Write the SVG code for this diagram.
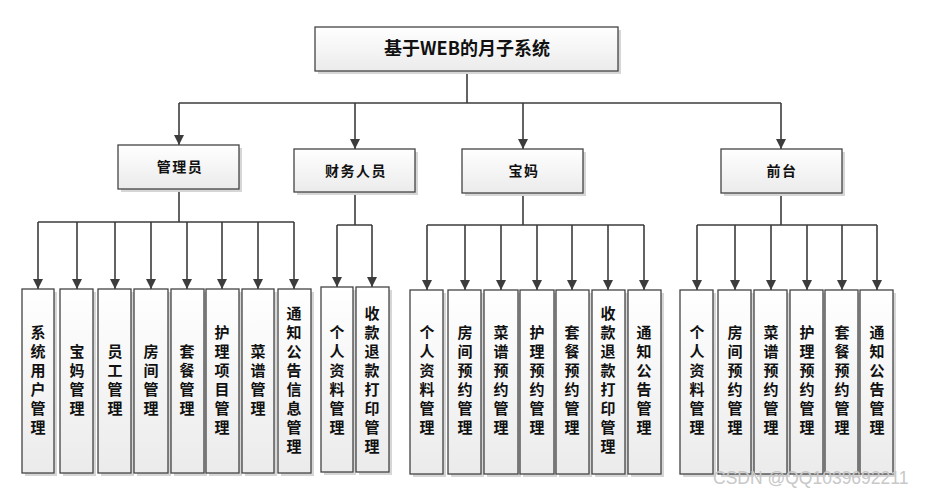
<svg xmlns="http://www.w3.org/2000/svg" width="926" height="495" viewBox="0 0 926 495">
<defs>
<linearGradient id="g" x1="0" y1="0" x2="0" y2="1">
<stop offset="0" stop-color="#ffffff"/>
<stop offset="1" stop-color="#ebebeb"/>
</linearGradient>
<marker id="ah" markerUnits="userSpaceOnUse" markerWidth="11" markerHeight="11" refX="10" refY="5" orient="auto">
<path d="M0,0 L10,5 L0,10 z" fill="#3c3c3c"/>
</marker>
</defs>
<style>
.sh{fill:#d6d6d6}
.bx{fill:url(#g);stroke:#444;stroke-width:1.3}
.t1{font-family:"Noto Sans CJK SC","Liberation Serif",serif;font-weight:bold;font-size:18px;fill:#111;text-anchor:middle}
.t2{font-family:"Noto Sans CJK SC",serif;font-weight:bold;font-size:14px;fill:#111;text-anchor:middle;letter-spacing:1.5px}
.lf{font-family:"Noto Sans CJK SC",serif;font-weight:bold;font-size:15px;fill:#111;text-anchor:middle}
.cn{fill:none;stroke:#3c3c3c;stroke-width:1.6}
.ar{fill:none;stroke:#3c3c3c;stroke-width:1.6;marker-end:url(#ah)}
.wm{font-family:"Liberation Sans",sans-serif;font-size:17.5px;fill:#c8c8c8}
</style>
<rect width="926" height="495" fill="#fff"/>

<g id="connectors">
<path class="cn" d="M467,71 V103 M179,103 H781"/>
<path class="ar" d="M179,103 V145"/>
<path class="ar" d="M355,103 V149"/>
<path class="ar" d="M523,103 V149"/>
<path class="ar" d="M781,103 V149"/>
<path class="cn" d="M179,189 V222 M38,222 H294"/>
<path class="ar" d="M38,222 V289"/>
<path class="ar" d="M77,222 V289"/>
<path class="ar" d="M115,222 V289"/>
<path class="ar" d="M151,222 V289"/>
<path class="ar" d="M187,222 V289"/>
<path class="ar" d="M222,222 V289"/>
<path class="ar" d="M258,222 V289"/>
<path class="ar" d="M294,222 V289"/>
<path class="cn" d="M355,192 V225 M337,225 H372"/>
<path class="ar" d="M337,225 V287"/>
<path class="ar" d="M372,225 V287"/>
<path class="cn" d="M523,193 V225 M427,225 H644"/>
<path class="ar" d="M427,225 V290"/>
<path class="ar" d="M465,225 V290"/>
<path class="ar" d="M501,225 V290"/>
<path class="ar" d="M537,225 V290"/>
<path class="ar" d="M572,225 V290"/>
<path class="ar" d="M608,225 V290"/>
<path class="ar" d="M644,225 V290"/>
<path class="cn" d="M781,193 V225 M697,225 H877"/>
<path class="ar" d="M697,225 V290"/>
<path class="ar" d="M735,225 V290"/>
<path class="ar" d="M771,225 V290"/>
<path class="ar" d="M807,225 V290"/>
<path class="ar" d="M842,225 V290"/>
<path class="ar" d="M877,225 V290"/>
</g>

<g id="root">
<rect class="sh" x="318" y="30" width="303" height="44"/>
<rect class="bx" x="315" y="27" width="303" height="44"/>
<text class="t1" x="467" y="55">基于WEB的月子系统</text>
</g>

<g id="admin">
<rect class="sh" x="121" y="148" width="121" height="44"/>
<rect class="bx" x="118" y="145" width="121" height="44"/>
<text class="t2" x="180" y="172">管理员</text>
</g>
<g id="finance">
<rect class="sh" x="297" y="152" width="121" height="43"/>
<rect class="bx" x="294" y="149" width="121" height="43"/>
<text class="t2" x="356" y="176">财务人员</text>
</g>
<g id="baoma">
<rect class="sh" x="465" y="152" width="121" height="44"/>
<rect class="bx" x="462" y="149" width="121" height="44"/>
<text class="t2" x="524" y="176">宝妈</text>
</g>
<g id="qiantai">
<rect class="sh" x="724" y="152" width="121" height="44"/>
<rect class="bx" x="721" y="149" width="121" height="44"/>
<text class="t2" x="782" y="176">前台</text>
</g>

<g id="a1"><rect class="sh" x="25" y="292" width="32" height="184"/><rect class="bx" x="22" y="289" width="32" height="184"/>
<text class="lf"><tspan x="38" y="338">系</tspan><tspan x="38" dy="19">统</tspan><tspan x="38" dy="19">用</tspan><tspan x="38" dy="19">户</tspan><tspan x="38" dy="19">管</tspan><tspan x="38" dy="19">理</tspan></text></g>
<g id="a2"><rect class="sh" x="63" y="292" width="33" height="184"/><rect class="bx" x="60" y="289" width="33" height="184"/>
<text class="lf"><tspan x="77" y="357">宝</tspan><tspan x="77" dy="19">妈</tspan><tspan x="77" dy="19">管</tspan><tspan x="77" dy="19">理</tspan></text></g>
<g id="a3"><rect class="sh" x="101" y="292" width="33" height="184"/><rect class="bx" x="98" y="289" width="33" height="184"/>
<text class="lf"><tspan x="115" y="357">员</tspan><tspan x="115" dy="19">工</tspan><tspan x="115" dy="19">管</tspan><tspan x="115" dy="19">理</tspan></text></g>
<g id="a4"><rect class="sh" x="137" y="292" width="34" height="184"/><rect class="bx" x="134" y="289" width="34" height="184"/>
<text class="lf"><tspan x="151" y="357">房</tspan><tspan x="151" dy="19">间</tspan><tspan x="151" dy="19">管</tspan><tspan x="151" dy="19">理</tspan></text></g>
<g id="a5"><rect class="sh" x="174" y="292" width="33" height="184"/><rect class="bx" x="171" y="289" width="33" height="184"/>
<text class="lf"><tspan x="187" y="357">套</tspan><tspan x="187" dy="19">餐</tspan><tspan x="187" dy="19">管</tspan><tspan x="187" dy="19">理</tspan></text></g>
<g id="a6"><rect class="sh" x="209" y="292" width="33" height="184"/><rect class="bx" x="206" y="289" width="33" height="184"/>
<text class="lf"><tspan x="222" y="338">护</tspan><tspan x="222" dy="19">理</tspan><tspan x="222" dy="19">项</tspan><tspan x="222" dy="19">目</tspan><tspan x="222" dy="19">管</tspan><tspan x="222" dy="19">理</tspan></text></g>
<g id="a7"><rect class="sh" x="245" y="292" width="32" height="184"/><rect class="bx" x="242" y="289" width="32" height="184"/>
<text class="lf"><tspan x="258" y="357">菜</tspan><tspan x="258" dy="19">谱</tspan><tspan x="258" dy="19">管</tspan><tspan x="258" dy="19">理</tspan></text></g>
<g id="a8"><rect class="sh" x="281" y="292" width="33" height="184"/><rect class="bx" x="278" y="289" width="33" height="184"/>
<text class="lf"><tspan x="294" y="319">通</tspan><tspan x="294" dy="19">知</tspan><tspan x="294" dy="19">公</tspan><tspan x="294" dy="19">告</tspan><tspan x="294" dy="19">信</tspan><tspan x="294" dy="19">息</tspan><tspan x="294" dy="19">管</tspan><tspan x="294" dy="19">理</tspan></text></g>

<g id="f1"><rect class="sh" x="324" y="290" width="32" height="185"/><rect class="bx" x="321" y="287" width="32" height="185"/>
<text class="lf"><tspan x="337" y="338">个</tspan><tspan x="337" dy="19">人</tspan><tspan x="337" dy="19">资</tspan><tspan x="337" dy="19">料</tspan><tspan x="337" dy="19">管</tspan><tspan x="337" dy="19">理</tspan></text></g>
<g id="f2"><rect class="sh" x="359" y="290" width="33" height="185"/><rect class="bx" x="356" y="287" width="33" height="185"/>
<text class="lf"><tspan x="372" y="319">收</tspan><tspan x="372" dy="19">款</tspan><tspan x="372" dy="19">退</tspan><tspan x="372" dy="19">款</tspan><tspan x="372" dy="19">打</tspan><tspan x="372" dy="19">印</tspan><tspan x="372" dy="19">管</tspan><tspan x="372" dy="19">理</tspan></text></g>

<g id="b1"><rect class="sh" x="413" y="293" width="33" height="184"/><rect class="bx" x="410" y="290" width="33" height="184"/>
<text class="lf"><tspan x="427" y="338">个</tspan><tspan x="427" dy="19">人</tspan><tspan x="427" dy="19">资</tspan><tspan x="427" dy="19">料</tspan><tspan x="427" dy="19">管</tspan><tspan x="427" dy="19">理</tspan></text></g>
<g id="b2"><rect class="sh" x="451" y="293" width="33" height="184"/><rect class="bx" x="448" y="290" width="33" height="184"/>
<text class="lf"><tspan x="465" y="338">房</tspan><tspan x="465" dy="19">间</tspan><tspan x="465" dy="19">预</tspan><tspan x="465" dy="19">约</tspan><tspan x="465" dy="19">管</tspan><tspan x="465" dy="19">理</tspan></text></g>
<g id="b3"><rect class="sh" x="487" y="293" width="34" height="184"/><rect class="bx" x="484" y="290" width="34" height="184"/>
<text class="lf"><tspan x="501" y="338">菜</tspan><tspan x="501" dy="19">谱</tspan><tspan x="501" dy="19">预</tspan><tspan x="501" dy="19">约</tspan><tspan x="501" dy="19">管</tspan><tspan x="501" dy="19">理</tspan></text></g>
<g id="b4"><rect class="sh" x="523" y="293" width="34" height="184"/><rect class="bx" x="520" y="290" width="34" height="184"/>
<text class="lf"><tspan x="537" y="338">护</tspan><tspan x="537" dy="19">理</tspan><tspan x="537" dy="19">预</tspan><tspan x="537" dy="19">约</tspan><tspan x="537" dy="19">管</tspan><tspan x="537" dy="19">理</tspan></text></g>
<g id="b5"><rect class="sh" x="559" y="293" width="33" height="184"/><rect class="bx" x="556" y="290" width="33" height="184"/>
<text class="lf"><tspan x="572" y="338">套</tspan><tspan x="572" dy="19">餐</tspan><tspan x="572" dy="19">预</tspan><tspan x="572" dy="19">约</tspan><tspan x="572" dy="19">管</tspan><tspan x="572" dy="19">理</tspan></text></g>
<g id="b6"><rect class="sh" x="595" y="293" width="33" height="184"/><rect class="bx" x="592" y="290" width="33" height="184"/>
<text class="lf"><tspan x="608" y="319">收</tspan><tspan x="608" dy="19">款</tspan><tspan x="608" dy="19">退</tspan><tspan x="608" dy="19">款</tspan><tspan x="608" dy="19">打</tspan><tspan x="608" dy="19">印</tspan><tspan x="608" dy="19">管</tspan><tspan x="608" dy="19">理</tspan></text></g>
<g id="b7"><rect class="sh" x="631" y="293" width="33" height="184"/><rect class="bx" x="628" y="290" width="33" height="184"/>
<text class="lf"><tspan x="644" y="338">通</tspan><tspan x="644" dy="19">知</tspan><tspan x="644" dy="19">公</tspan><tspan x="644" dy="19">告</tspan><tspan x="644" dy="19">管</tspan><tspan x="644" dy="19">理</tspan></text></g>

<g id="q1"><rect class="sh" x="683" y="293" width="33" height="184"/><rect class="bx" x="680" y="290" width="33" height="184"/>
<text class="lf"><tspan x="697" y="338">个</tspan><tspan x="697" dy="19">人</tspan><tspan x="697" dy="19">资</tspan><tspan x="697" dy="19">料</tspan><tspan x="697" dy="19">管</tspan><tspan x="697" dy="19">理</tspan></text></g>
<g id="q2"><rect class="sh" x="721" y="293" width="33" height="184"/><rect class="bx" x="718" y="290" width="33" height="184"/>
<text class="lf"><tspan x="735" y="338">房</tspan><tspan x="735" dy="19">间</tspan><tspan x="735" dy="19">预</tspan><tspan x="735" dy="19">约</tspan><tspan x="735" dy="19">管</tspan><tspan x="735" dy="19">理</tspan></text></g>
<g id="q3"><rect class="sh" x="757" y="293" width="33" height="184"/><rect class="bx" x="754" y="290" width="33" height="184"/>
<text class="lf"><tspan x="771" y="338">菜</tspan><tspan x="771" dy="19">谱</tspan><tspan x="771" dy="19">预</tspan><tspan x="771" dy="19">约</tspan><tspan x="771" dy="19">管</tspan><tspan x="771" dy="19">理</tspan></text></g>
<g id="q4"><rect class="sh" x="793" y="293" width="33" height="184"/><rect class="bx" x="790" y="290" width="33" height="184"/>
<text class="lf"><tspan x="807" y="338">护</tspan><tspan x="807" dy="19">理</tspan><tspan x="807" dy="19">预</tspan><tspan x="807" dy="19">约</tspan><tspan x="807" dy="19">管</tspan><tspan x="807" dy="19">理</tspan></text></g>
<g id="q5"><rect class="sh" x="828" y="293" width="33" height="184"/><rect class="bx" x="825" y="290" width="33" height="184"/>
<text class="lf"><tspan x="842" y="338">套</tspan><tspan x="842" dy="19">餐</tspan><tspan x="842" dy="19">预</tspan><tspan x="842" dy="19">约</tspan><tspan x="842" dy="19">管</tspan><tspan x="842" dy="19">理</tspan></text></g>
<g id="q6"><rect class="sh" x="863" y="293" width="33" height="184"/><rect class="bx" x="860" y="290" width="33" height="184"/>
<text class="lf"><tspan x="877" y="338">通</tspan><tspan x="877" dy="19">知</tspan><tspan x="877" dy="19">公</tspan><tspan x="877" dy="19">告</tspan><tspan x="877" dy="19">管</tspan><tspan x="877" dy="19">理</tspan></text></g>

<text class="wm" x="713" y="484">CSDN @QQ1039692211</text>
</svg>
